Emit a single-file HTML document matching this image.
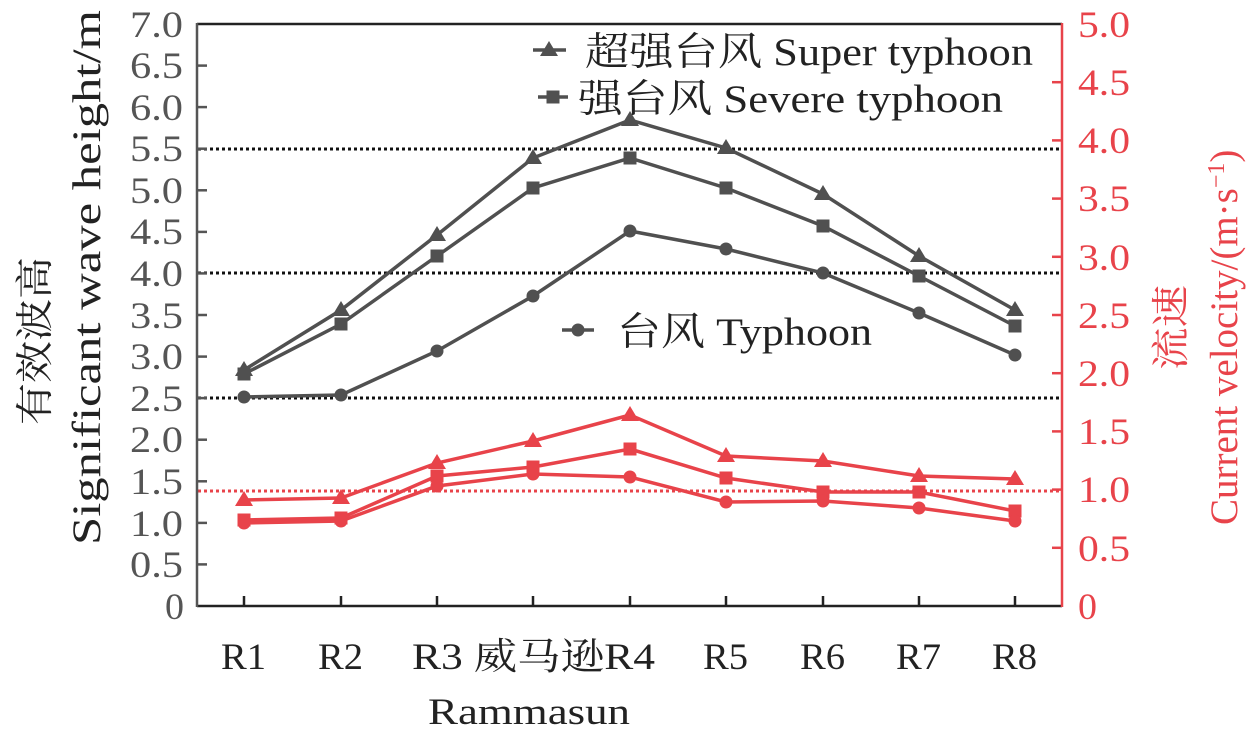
<!DOCTYPE html><html><head><style>body{margin:0;background:#fff}svg{display:block}</style></head><body>
<svg width="1259" height="741" viewBox="0 0 1259 741" xmlns="http://www.w3.org/2000/svg" font-family="'Liberation Serif','Noto Serif CJK SC',serif">
<defs>
<g id="tri"><polygon points="0,-9 9,6 -9,6"/></g>
<g id="sq"><rect x="-6.5" y="-6.5" width="13" height="13"/></g>
<g id="ci"><circle r="6.5"/></g>
</defs>
<g stroke="#111" stroke-width="3" stroke-dasharray="3,3">
<line x1="198" y1="149" x2="1060" y2="149"/><line x1="198" y1="273" x2="1060" y2="273"/><line x1="198" y1="398" x2="1060" y2="398"/></g>
<line x1="198" y1="491" x2="1060" y2="491" stroke="#e8434a" stroke-width="3" stroke-dasharray="3,3"/>
<line x1="197" y1="24" x2="1062" y2="24" stroke="#222" stroke-width="2.5"/>
<line x1="197" y1="606" x2="1062" y2="606" stroke="#222" stroke-width="2.5"/>
<line x1="197" y1="23" x2="197" y2="607" stroke="#555" stroke-width="2.5"/>
<line x1="1062" y1="23" x2="1062" y2="607" stroke="#e8434a" stroke-width="2.5"/>
<g stroke="#555" stroke-width="2.5">
<line x1="197" y1="65.6" x2="207" y2="65.6"/><line x1="197" y1="107.1" x2="207" y2="107.1"/><line x1="197" y1="148.7" x2="207" y2="148.7"/><line x1="197" y1="190.3" x2="207" y2="190.3"/><line x1="197" y1="231.9" x2="207" y2="231.9"/><line x1="197" y1="273.4" x2="207" y2="273.4"/><line x1="197" y1="315" x2="207" y2="315"/><line x1="197" y1="356.6" x2="207" y2="356.6"/><line x1="197" y1="398.1" x2="207" y2="398.1"/><line x1="197" y1="439.7" x2="207" y2="439.7"/><line x1="197" y1="481.3" x2="207" y2="481.3"/><line x1="197" y1="522.9" x2="207" y2="522.9"/><line x1="197" y1="564.4" x2="207" y2="564.4"/>
</g>
<g stroke="#e8434a" stroke-width="2.5">
<line x1="1052" y1="82.2" x2="1062" y2="82.2"/><line x1="1052" y1="140.4" x2="1062" y2="140.4"/><line x1="1052" y1="198.6" x2="1062" y2="198.6"/><line x1="1052" y1="256.8" x2="1062" y2="256.8"/><line x1="1052" y1="315" x2="1062" y2="315"/><line x1="1052" y1="373.2" x2="1062" y2="373.2"/><line x1="1052" y1="431.4" x2="1062" y2="431.4"/><line x1="1052" y1="489.6" x2="1062" y2="489.6"/><line x1="1052" y1="547.8" x2="1062" y2="547.8"/>
</g>
<g stroke="#222" stroke-width="2.5">
<line x1="244" y1="606" x2="244" y2="596"/><line x1="341" y1="606" x2="341" y2="596"/><line x1="437" y1="606" x2="437" y2="596"/><line x1="533" y1="606" x2="533" y2="596"/><line x1="630" y1="606" x2="630" y2="596"/><line x1="726" y1="606" x2="726" y2="596"/><line x1="823" y1="606" x2="823" y2="596"/><line x1="919" y1="606" x2="919" y2="596"/><line x1="1015" y1="606" x2="1015" y2="596"/>
</g>
<g fill="#555" font-size="37">
<text x="130" y="37" textLength="53" lengthAdjust="spacingAndGlyphs">7.0</text><text x="130" y="78" textLength="53" lengthAdjust="spacingAndGlyphs">6.5</text><text x="130" y="120" textLength="53" lengthAdjust="spacingAndGlyphs">6.0</text><text x="130" y="161" textLength="53" lengthAdjust="spacingAndGlyphs">5.5</text><text x="130" y="203" textLength="53" lengthAdjust="spacingAndGlyphs">5.0</text><text x="130" y="244" textLength="53" lengthAdjust="spacingAndGlyphs">4.5</text><text x="130" y="286" textLength="53" lengthAdjust="spacingAndGlyphs">4.0</text><text x="130" y="328" textLength="53" lengthAdjust="spacingAndGlyphs">3.5</text><text x="130" y="369" textLength="53" lengthAdjust="spacingAndGlyphs">3.0</text><text x="130" y="411" textLength="53" lengthAdjust="spacingAndGlyphs">2.5</text><text x="130" y="452" textLength="53" lengthAdjust="spacingAndGlyphs">2.0</text><text x="130" y="494" textLength="53" lengthAdjust="spacingAndGlyphs">1.5</text><text x="130" y="536" textLength="53" lengthAdjust="spacingAndGlyphs">1.0</text><text x="130" y="577" textLength="53" lengthAdjust="spacingAndGlyphs">0.5</text><text x="165" y="619" textLength="19" lengthAdjust="spacingAndGlyphs">0</text>
</g>
<g fill="#e8434a" font-size="37">
<text x="1078" y="37" textLength="52" lengthAdjust="spacingAndGlyphs">5.0</text><text x="1078" y="95" textLength="52" lengthAdjust="spacingAndGlyphs">4.5</text><text x="1078" y="153" textLength="52" lengthAdjust="spacingAndGlyphs">4.0</text><text x="1078" y="211" textLength="52" lengthAdjust="spacingAndGlyphs">3.5</text><text x="1078" y="270" textLength="52" lengthAdjust="spacingAndGlyphs">3.0</text><text x="1078" y="328" textLength="52" lengthAdjust="spacingAndGlyphs">2.5</text><text x="1078" y="386" textLength="52" lengthAdjust="spacingAndGlyphs">2.0</text><text x="1078" y="444" textLength="52" lengthAdjust="spacingAndGlyphs">1.5</text><text x="1078" y="502" textLength="52" lengthAdjust="spacingAndGlyphs">1.0</text><text x="1078" y="561" textLength="52" lengthAdjust="spacingAndGlyphs">0.5</text><text x="1078" y="619" textLength="19" lengthAdjust="spacingAndGlyphs">0</text>
</g>
<g fill="#222" font-size="37">
<text x="221" y="669" textLength="45" lengthAdjust="spacingAndGlyphs">R1</text><text x="318" y="669" textLength="45" lengthAdjust="spacingAndGlyphs">R2</text><text x="412" y="669" textLength="243" lengthAdjust="spacingAndGlyphs">R3 威马逊R4</text><text x="703" y="669" textLength="45" lengthAdjust="spacingAndGlyphs">R5</text><text x="800" y="669" textLength="45" lengthAdjust="spacingAndGlyphs">R6</text><text x="896" y="669" textLength="45" lengthAdjust="spacingAndGlyphs">R7</text><text x="992" y="669" textLength="45" lengthAdjust="spacingAndGlyphs">R8</text>
<text x="428" y="724" textLength="202" lengthAdjust="spacingAndGlyphs">Rammasun</text>
</g>
<text transform="translate(48,425) rotate(-90)" font-size="38" fill="#222" textLength="168" lengthAdjust="spacingAndGlyphs">有效波高</text>
<text transform="translate(100,545) rotate(-90)" font-size="40" fill="#222" textLength="535" lengthAdjust="spacingAndGlyphs">Significant wave height/m</text>
<text transform="translate(1184,370) rotate(-90)" font-size="38" fill="#e8434a" textLength="85" lengthAdjust="spacingAndGlyphs">流速</text>
<text transform="translate(1237,525) rotate(-90)" font-size="39" fill="#e8434a">Current velocity/(m·s<tspan dy="-13" font-size="24">−1</tspan><tspan dy="13">)</tspan></text>
<g stroke="#505050" stroke-width="3.5" fill="none">
<polyline points="244,370 341,310 437,235 533,158 630,120 726,148 823,194 919,256 1015,310"/>
<polyline points="244,374 341,324 437,256 533,188 630,158 726,188 823,226 919,276 1015,326"/>
<polyline points="244,397 341,395 437,351 533,296 630,231 726,249 823,273 919,313 1015,355"/>
</g>
<g fill="#505050">
<use href="#tri" x="244" y="370"/><use href="#tri" x="341" y="310"/><use href="#tri" x="437" y="235"/><use href="#tri" x="533" y="158"/><use href="#tri" x="630" y="120"/><use href="#tri" x="726" y="148"/><use href="#tri" x="823" y="194"/><use href="#tri" x="919" y="256"/><use href="#tri" x="1015" y="310"/>
<use href="#sq" x="244" y="374"/><use href="#sq" x="341" y="324"/><use href="#sq" x="437" y="256"/><use href="#sq" x="533" y="188"/><use href="#sq" x="630" y="158"/><use href="#sq" x="726" y="188"/><use href="#sq" x="823" y="226"/><use href="#sq" x="919" y="276"/><use href="#sq" x="1015" y="326"/>
<use href="#ci" x="244" y="397"/><use href="#ci" x="341" y="395"/><use href="#ci" x="437" y="351"/><use href="#ci" x="533" y="296"/><use href="#ci" x="630" y="231"/><use href="#ci" x="726" y="249"/><use href="#ci" x="823" y="273"/><use href="#ci" x="919" y="313"/><use href="#ci" x="1015" y="355"/>
</g>
<g stroke="#e8434a" stroke-width="3.5" fill="none">
<polyline points="244,500 341,498 437,463 533,441 630,415 726,456 823,461 919,476 1015,479"/>
<polyline points="244,520 341,518 437,476 533,467 630,449 726,478 823,492 919,492 1015,511"/>
<polyline points="244,523 341,521 437,486 533,474 630,477 726,502 823,501 919,508 1015,521"/>
</g>
<g fill="#e8434a">
<use href="#tri" x="244" y="500"/><use href="#tri" x="341" y="498"/><use href="#tri" x="437" y="463"/><use href="#tri" x="533" y="441"/><use href="#tri" x="630" y="415"/><use href="#tri" x="726" y="456"/><use href="#tri" x="823" y="461"/><use href="#tri" x="919" y="476"/><use href="#tri" x="1015" y="479"/>
<use href="#sq" x="244" y="520"/><use href="#sq" x="341" y="518"/><use href="#sq" x="437" y="476"/><use href="#sq" x="533" y="467"/><use href="#sq" x="630" y="449"/><use href="#sq" x="726" y="478"/><use href="#sq" x="823" y="492"/><use href="#sq" x="919" y="492"/><use href="#sq" x="1015" y="511"/>
<use href="#ci" x="244" y="523"/><use href="#ci" x="341" y="521"/><use href="#ci" x="437" y="486"/><use href="#ci" x="533" y="474"/><use href="#ci" x="630" y="477"/><use href="#ci" x="726" y="502"/><use href="#ci" x="823" y="501"/><use href="#ci" x="919" y="508"/><use href="#ci" x="1015" y="521"/>
</g>
<g stroke="#505050" stroke-width="3.5"><line x1="533" y1="50" x2="566" y2="50"/><line x1="538" y1="97" x2="568" y2="97"/><line x1="562" y1="330" x2="594" y2="330"/></g>
<g fill="#505050"><use href="#tri" x="549" y="50"/><use href="#sq" x="553" y="97"/><use href="#ci" x="578" y="330"/></g>
<g fill="#222" font-size="39">
<text x="585" y="65" textLength="448" lengthAdjust="spacingAndGlyphs">超强台风 Super typhoon</text>
<text x="578" y="112" textLength="425" lengthAdjust="spacingAndGlyphs">强台风 Severe typhoon</text>
<text x="617" y="345" textLength="255" lengthAdjust="spacingAndGlyphs">台风 Typhoon</text>
</g>
</svg>
</body></html>
